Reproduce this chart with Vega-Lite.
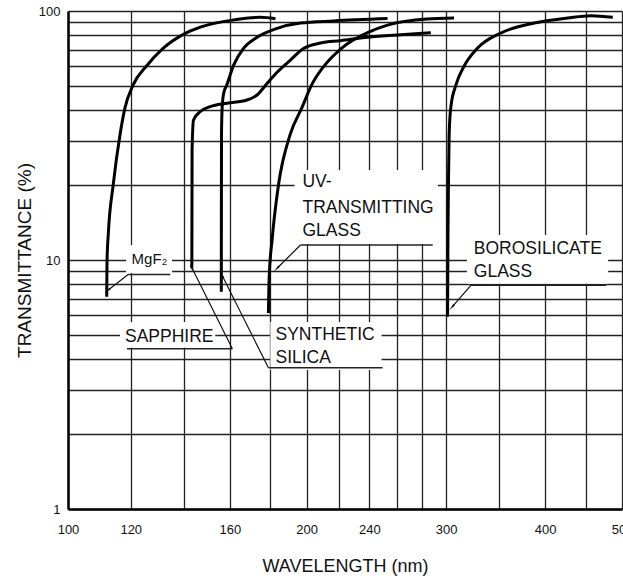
{
  "$schema": "https://vega.github.io/schema/vega-lite/v6.json",
  "width": 554,
  "height": 498,
  "autosize": {"type": "none"},
  "padding": {"left": 68, "top": 11, "right": 1, "bottom": 72},
  "background": "white",
  "config": {
    "view": {"stroke": null},
    "font": "Liberation Sans",
    "axis": {
      "labelFont": "Liberation Sans",
      "titleFont": "Liberation Sans",
      "labelColor": "#111",
      "titleColor": "#111",
      "titleFontWeight": "normal",
      "ticks": false,
      "grid": true,
      "gridColor": "#222",
      "gridWidth": 1.3,
      "gridOpacity": 1,
      "domainColor": "#000",
      "domainWidth": 2.5,
      "labelOverlap": false,
      "labelBound": false,
      "labelFlush": false
    }
  },
  "datasets": {
    "curves": [
      {"series": "MgF2", "i": 1, "wl": 111.9, "t": 7.12},
      {"series": "MgF2", "i": 2, "wl": 112.0, "t": 9.84},
      {"series": "MgF2", "i": 3, "wl": 112.5, "t": 13.2},
      {"series": "MgF2", "i": 4, "wl": 114.0, "t": 19.9},
      {"series": "MgF2", "i": 5, "wl": 116.3, "t": 31.8},
      {"series": "MgF2", "i": 6, "wl": 118.0, "t": 40.8},
      {"series": "MgF2", "i": 7, "wl": 120.8, "t": 50.4},
      {"series": "MgF2", "i": 8, "wl": 125.7, "t": 60.3},
      {"series": "MgF2", "i": 9, "wl": 131.8, "t": 70.8},
      {"series": "MgF2", "i": 10, "wl": 141.4, "t": 82.1},
      {"series": "MgF2", "i": 11, "wl": 149.8, "t": 87.8},
      {"series": "MgF2", "i": 12, "wl": 161.6, "t": 92.0},
      {"series": "MgF2", "i": 13, "wl": 174.9, "t": 94.3},
      {"series": "MgF2", "i": 14, "wl": 182.7, "t": 93.0},

      {"series": "Sapphire", "i": 1, "wl": 143.3, "t": 9.29},
      {"series": "Sapphire", "i": 2, "wl": 143.4, "t": 27.6},
      {"series": "Sapphire", "i": 3, "wl": 144.0, "t": 36.5},
      {"series": "Sapphire", "i": 4, "wl": 146.8, "t": 39.4},
      {"series": "Sapphire", "i": 5, "wl": 151.2, "t": 41.3},
      {"series": "Sapphire", "i": 6, "wl": 158.7, "t": 42.6},
      {"series": "Sapphire", "i": 7, "wl": 168.2, "t": 43.9},
      {"series": "Sapphire", "i": 8, "wl": 173.2, "t": 46.0},
      {"series": "Sapphire", "i": 9, "wl": 178.5, "t": 51.4},
      {"series": "Sapphire", "i": 10, "wl": 183.7, "t": 56.9},
      {"series": "Sapphire", "i": 11, "wl": 190.8, "t": 63.5},
      {"series": "Sapphire", "i": 12, "wl": 198.2, "t": 70.7},
      {"series": "Sapphire", "i": 13, "wl": 208.3, "t": 74.4},
      {"series": "Sapphire", "i": 14, "wl": 220.7, "t": 76.0},
      {"series": "Sapphire", "i": 15, "wl": 238.8, "t": 78.4},
      {"series": "Sapphire", "i": 16, "wl": 262.9, "t": 80.3},
      {"series": "Sapphire", "i": 17, "wl": 286.9, "t": 81.8},

      {"series": "Silica", "i": 1, "wl": 156.1, "t": 7.46},
      {"series": "Silica", "i": 2, "wl": 156.15, "t": 17.4},
      {"series": "Silica", "i": 3, "wl": 156.2, "t": 32.3},
      {"series": "Silica", "i": 4, "wl": 156.5, "t": 41},
      {"series": "Silica", "i": 5, "wl": 157.2, "t": 46.8},
      {"series": "Silica", "i": 6, "wl": 158.6, "t": 50.4},
      {"series": "Silica", "i": 7, "wl": 161.8, "t": 60.6},
      {"series": "Silica", "i": 8, "wl": 166.6, "t": 70.9},
      {"series": "Silica", "i": 9, "wl": 173.2, "t": 78.4},
      {"series": "Silica", "i": 10, "wl": 183.6, "t": 85.2},
      {"series": "Silica", "i": 11, "wl": 196.5, "t": 89.5},
      {"series": "Silica", "i": 12, "wl": 216.3, "t": 91.2},
      {"series": "Silica", "i": 13, "wl": 253.0, "t": 93.2},

      {"series": "UV", "i": 1, "wl": 179.0, "t": 6.12},
      {"series": "UV", "i": 2, "wl": 179.4, "t": 8.54},
      {"series": "UV", "i": 3, "wl": 180.9, "t": 12.0},
      {"series": "UV", "i": 4, "wl": 184.3, "t": 20.0},
      {"series": "UV", "i": 5, "wl": 190.6, "t": 31.8},
      {"series": "UV", "i": 6, "wl": 197.5, "t": 41.2},
      {"series": "UV", "i": 7, "wl": 202.9, "t": 50.4},
      {"series": "UV", "i": 8, "wl": 210.4, "t": 60.1},
      {"series": "UV", "i": 9, "wl": 221.5, "t": 71.0},
      {"series": "UV", "i": 10, "wl": 239.6, "t": 82.3},
      {"series": "UV", "i": 11, "wl": 253.0, "t": 87.8},
      {"series": "UV", "i": 12, "wl": 283.6, "t": 92.9},
      {"series": "UV", "i": 13, "wl": 306.9, "t": 93.7},

      {"series": "Boro", "i": 1, "wl": 301.2, "t": 5.92},
      {"series": "Boro", "i": 2, "wl": 301.4, "t": 8.54},
      {"series": "Boro", "i": 3, "wl": 301.6, "t": 13.2},
      {"series": "Boro", "i": 4, "wl": 302.0, "t": 20.0},
      {"series": "Boro", "i": 5, "wl": 302.6, "t": 31.8},
      {"series": "Boro", "i": 6, "wl": 304.1, "t": 41.2},
      {"series": "Boro", "i": 7, "wl": 308.6, "t": 50.4},
      {"series": "Boro", "i": 8, "wl": 316.1, "t": 60.1},
      {"series": "Boro", "i": 9, "wl": 328.7, "t": 71.0},
      {"series": "Boro", "i": 10, "wl": 351.7, "t": 81.6},
      {"series": "Boro", "i": 11, "wl": 387.6, "t": 89.5},
      {"series": "Boro", "i": 12, "wl": 427.1, "t": 93.7},
      {"series": "Boro", "i": 13, "wl": 457.1, "t": 95.7},
      {"series": "Boro", "i": 14, "wl": 486.8, "t": 94.3}
    ],
    "boxes": [
      {"name": "MgF2", "wl1": 118.4, "wl2": 135.3, "t1": 8.87, "t2": 11.5},
      {"name": "Sapphire", "wl1": 116.3, "wl2": 153.4, "t1": 4.44, "t2": 5.64},
      {"name": "Silica", "wl1": 180.0, "wl2": 248.7, "t1": 3.62, "t2": 5.64},
      {"name": "UV", "wl1": 193.1, "wl2": 292.8, "t1": 11.6, "t2": 22.98},
      {"name": "Boro", "wl1": 318.6, "wl2": 480.3, "t1": 8.02, "t2": 12.6}
    ],
    "underlines": [
      {"name": "MgF2", "wl1": 119.1, "wl2": 134.6, "t": 8.745},
      {"name": "Sapphire", "wl1": 118.7, "wl2": 161.2, "t": 4.40},
      {"name": "Silica", "wl1": 179.0, "wl2": 249.4, "t": 3.69},
      {"name": "UV", "wl1": 196.5, "wl2": 288.5, "t": 11.49},
      {"name": "Boro", "wl1": 322.3, "wl2": 477.5, "t": 7.91}
    ],
    "leaders": [
      {"name": "MgF2", "wl1": 119.1, "t1": 8.745, "wl2": 112.4, "t2": 7.58},
      {"name": "Sapphire", "wl1": 161.2, "t1": 4.40, "wl2": 143.3, "t2": 9.3},
      {"name": "Silica", "wl1": 179.0, "t1": 3.69, "wl2": 156.6, "t2": 8.63},
      {"name": "UV", "wl1": 196.5, "t1": 11.49, "wl2": 183.7, "t2": 9.29},
      {"name": "Boro", "wl1": 322.3, "t1": 7.91, "wl2": 305.5, "t2": 6.5}
    ],
    "labels": [
      {"text": "SAPPHIRE", "wl": 118.0, "t": 4.91},
      {"text": "SYNTHETIC", "wl": 182.7, "t": 5.0},
      {"text": "SILICA", "wl": 182.7, "t": 4.05},
      {"text": "UV-", "wl": 197.6, "t": 20.5},
      {"text": "TRANSMITTING", "wl": 197.6, "t": 16.2},
      {"text": "GLASS", "wl": 197.6, "t": 13.1},
      {"text": "BOROSILICATE", "wl": 325.1, "t": 11.1},
      {"text": "GLASS", "wl": 325.1, "t": 8.91}
    ],
    "small": [
      {"text": "MgF₂", "wl": 120.3, "t": 10.1}
    ]
  },
  "encoding": {
    "x": {
      "field": "wl", "type": "quantitative",
      "scale": {"type": "log", "domain": [100, 500], "nice": false},
      "axis": {
        "values": [100, 120, 140, 160, 180, 200, 220, 240, 260, 280, 300, 350, 400, 450, 500],
        "labelExpr": "indexof([100,120,160,200,240,300,400,500], datum.value) >= 0 ? datum.value + '' : ''",
        "labelFontSize": 13,
        "labelPadding": 14,
        "title": "WAVELENGTH (nm)",
        "titleFontSize": 18,
        "titlePadding": 21
      }
    },
    "y": {
      "field": "t", "type": "quantitative",
      "scale": {"type": "log", "domain": [1, 100], "nice": false},
      "axis": {
        "values": [1, 2, 3, 4, 5, 6, 7, 8, 9, 10, 20, 30, 40, 50, 60, 70, 80, 90, 100],
        "labelExpr": "indexof([1,10,100], datum.value) >= 0 ? datum.value + '' : ''",
        "labelFontSize": 13,
        "labelPadding": 8,
        "title": "TRANSMITTANCE (%)",
        "titleFontSize": 19,
        "titlePadding": 4
      }
    }
  },
  "layer": [
    {
      "data": {"name": "boxes"},
      "mark": {"type": "rect", "fill": "white", "stroke": null},
      "encoding": {
        "x": {"field": "wl1", "type": "quantitative"},
        "x2": {"field": "wl2"},
        "y": {"field": "t1", "type": "quantitative"},
        "y2": {"field": "t2"}
      }
    },
    {
      "data": {"name": "underlines"},
      "mark": {"type": "rule", "color": "#222", "strokeWidth": 1.4},
      "encoding": {
        "x": {"field": "wl1", "type": "quantitative"},
        "x2": {"field": "wl2"},
        "y": {"field": "t", "type": "quantitative"}
      }
    },
    {
      "data": {"name": "leaders"},
      "mark": {"type": "rule", "color": "#111", "strokeWidth": 1.2},
      "encoding": {
        "x": {"field": "wl1", "type": "quantitative"},
        "x2": {"field": "wl2"},
        "y": {"field": "t1", "type": "quantitative"},
        "y2": {"field": "t2"}
      }
    },
    {
      "data": {"name": "leaders"},
      "transform": [{"filter": "datum.name == 'MgF2'"}],
      "mark": {"type": "point", "shape": "wedge", "filled": true, "color": "#111", "size": 70, "opacity": 1, "angle": 231.8},
      "encoding": {
        "x": {"field": "wl2", "type": "quantitative"},
        "y": {"field": "t2", "type": "quantitative"}
      }
    },
    {
      "data": {"name": "leaders"},
      "transform": [{"filter": "datum.name == 'Sapphire'"}],
      "mark": {"type": "point", "shape": "wedge", "filled": true, "color": "#111", "size": 70, "opacity": 1, "angle": 334.1},
      "encoding": {
        "x": {"field": "wl2", "type": "quantitative"},
        "y": {"field": "t2", "type": "quantitative"}
      }
    },
    {
      "data": {"name": "leaders"},
      "transform": [{"filter": "datum.name == 'Silica'"}],
      "mark": {"type": "point", "shape": "wedge", "filled": true, "color": "#111", "size": 70, "opacity": 1, "angle": 333.4},
      "encoding": {
        "x": {"field": "wl2", "type": "quantitative"},
        "y": {"field": "t2", "type": "quantitative"}
      }
    },
    {
      "data": {"name": "leaders"},
      "transform": [{"filter": "datum.name == 'UV'"}],
      "mark": {"type": "point", "shape": "wedge", "filled": true, "color": "#111", "size": 70, "opacity": 1, "angle": 225},
      "encoding": {
        "x": {"field": "wl2", "type": "quantitative"},
        "y": {"field": "t2", "type": "quantitative"}
      }
    },
    {
      "data": {"name": "leaders"},
      "transform": [{"filter": "datum.name == 'Boro'"}],
      "mark": {"type": "point", "shape": "wedge", "filled": true, "color": "#111", "size": 70, "opacity": 1, "angle": 220.8},
      "encoding": {
        "x": {"field": "wl2", "type": "quantitative"},
        "y": {"field": "t2", "type": "quantitative"}
      }
    },
    {
      "data": {"name": "curves"},
      "mark": {"type": "line", "color": "#000", "strokeWidth": 3, "interpolate": "monotone", "strokeCap": "butt"},
      "encoding": {
        "detail": {"field": "series", "type": "nominal"},
        "order": {"field": "i", "type": "quantitative"}
      }
    },
    {
      "data": {"name": "labels"},
      "mark": {"type": "text", "align": "left", "baseline": "middle", "fontSize": 17.5, "font": "Liberation Sans", "color": "#111"},
      "encoding": {
        "text": {"field": "text", "type": "nominal"}
      }
    },
    {
      "data": {"name": "small"},
      "mark": {"type": "text", "align": "left", "baseline": "middle", "fontSize": 15, "font": "Liberation Sans", "color": "#111"},
      "encoding": {
        "text": {"field": "text", "type": "nominal"}
      }
    }
  ]
}
